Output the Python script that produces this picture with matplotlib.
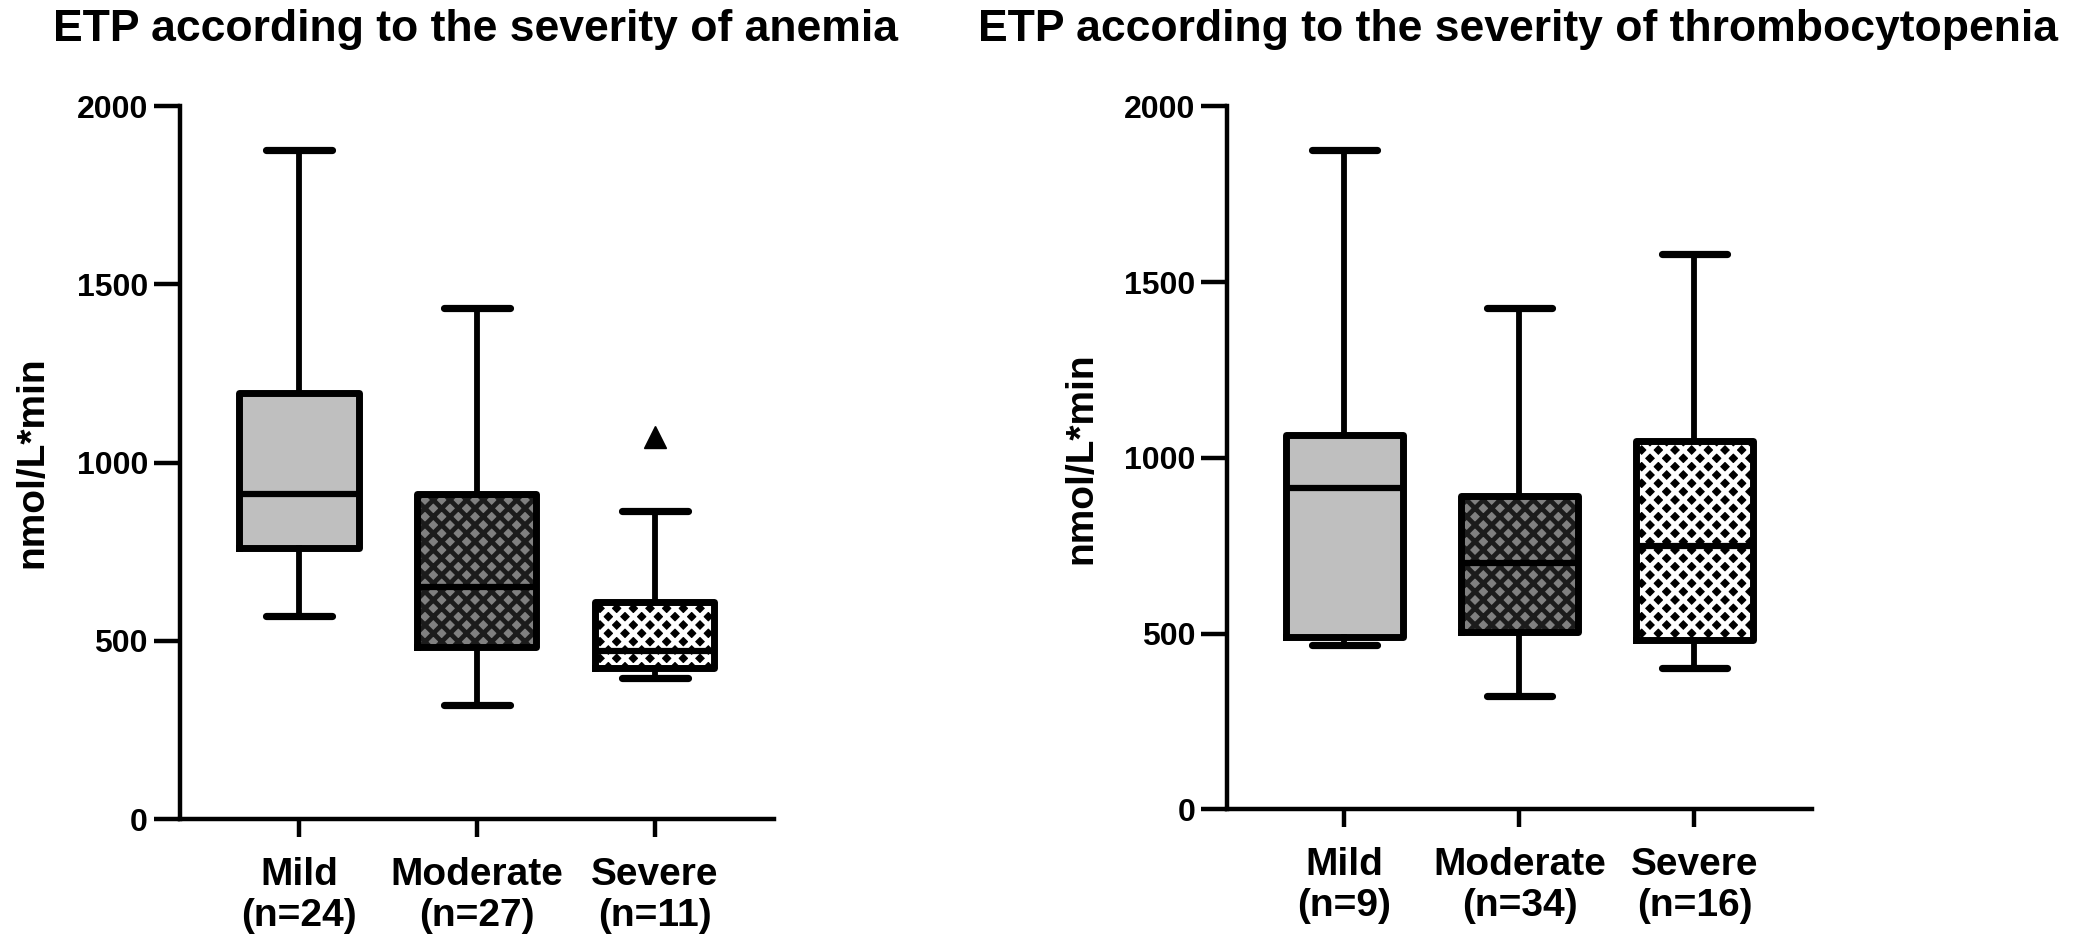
import matplotlib
matplotlib.use("Agg")
import matplotlib.pyplot as plt

plt.rcParams["font.family"] = ["Liberation Sans", "DejaVu Sans"]
plt.rcParams["font.weight"] = "bold"
plt.rcParams["hatch.linewidth"] = 3.4

# =========================
# data
# =========================
groups = ["Mild", "Moderate", "Severe"]
anemia_n = [24, 27, 11]
anemia_whislo = [570, 320, 395]
anemia_q1 = [760, 484, 425]
anemia_med = [911, 652, 472]
anemia_q3 = [1196, 913, 608]
anemia_whishi = [1877, 1434, 863]
anemia_fliers = [[], [], [1073]]

thrombo_n = [9, 34, 16]
thrombo_whislo = [468, 321, 402]
thrombo_q1 = [490, 504, 482]
thrombo_med = [915, 700, 750]
thrombo_q3 = [1066, 892, 1047]
thrombo_whishi = [1876, 1427, 1581]
thrombo_fliers = [[], [], []]

face_colors = ["#bfbfbf", "#808080", "#000000"]
hatch_colors = ["#bfbfbf", "#1c1c1c", "#ffffff"]
hatches = ["", "xx", "xx"]


def draw_panel(ax, n, whislo, q1, med, q3, whishi, fliers, title, title_x):
    stats = []
    for i in range(len(groups)):
        stats.append(dict(whislo=whislo[i], q1=q1[i], med=med[i], q3=q3[i],
                          whishi=whishi[i], fliers=fliers[i]))
    pos = [1, 2, 3]

    # filled + hatched boxes first
    filled = ax.bxp(stats, positions=pos, widths=0.67, patch_artist=True,
                    showfliers=False, showcaps=False, manage_ticks=False)
    for i, box in enumerate(filled["boxes"]):
        box.set_facecolor(face_colors[i])
        box.set_edgecolor(hatch_colors[i])
        box.set_hatch(hatches[i])
        box.set_linewidth(0)
        box.set_zorder(2)
    for key in ["whiskers", "medians"]:
        for art in filled[key]:
            art.set_visible(False)

    # black outlines on top
    ax.bxp(stats, positions=pos, widths=0.67, capwidths=0.37,
           boxprops=dict(color="black", linewidth=5),
           medianprops=dict(color="black", linewidth=4.5),
           whiskerprops=dict(color="black", linewidth=4.2),
           capprops=dict(color="black", linewidth=5.2, solid_capstyle="round"),
           flierprops=dict(marker="^", markerfacecolor="black",
                           markeredgecolor="black", markersize=16),
           zorder=3)

    ax.set_xlim(0.33, 3.67)
    ax.set_ylim(0, 2000)
    ax.set_yticks([0, 500, 1000, 1500, 2000])
    ax.set_xticks(pos)
    ax.set_xticklabels([f"{g}\n(n={k})" for g, k in zip(groups, n)],
                       fontsize=28, fontweight="bold", linespacing=1.2)
    ax.tick_params(axis="y", labelsize=23, length=19, width=3.2, pad=4)
    ax.tick_params(axis="x", length=13, width=3.2, pad=14)
    ax.spines["top"].set_visible(False)
    ax.spines["right"].set_visible(False)
    ax.spines["left"].set_linewidth(3.2)
    ax.spines["bottom"].set_linewidth(3.2)
    ax.set_ylabel("nmol/L*min", fontsize=28, fontweight="bold")
    ax.yaxis.set_label_coords(-0.218, 0.5)
    fig.text(title_x, 0.969, title, fontsize=32, fontweight="bold",
             ha="center", va="center")


fig = plt.figure(figsize=(20.8, 9.4), dpi=100)
ax1 = fig.add_axes([0.0865, 0.1287, 0.2855, 0.7583])
ax2 = fig.add_axes([0.590, 0.139, 0.281, 0.748])

draw_panel(ax1, anemia_n, anemia_whislo, anemia_q1, anemia_med, anemia_q3,
           anemia_whishi, anemia_fliers,
           "ETP according to the severity of anemia", 0.2287)
draw_panel(ax2, thrombo_n, thrombo_whislo, thrombo_q1, thrombo_med, thrombo_q3,
           thrombo_whishi, thrombo_fliers,
           "ETP according to the severity of thrombocytopenia", 0.730)

fig.savefig("out.png", dpi=100)
plt.close(fig)
